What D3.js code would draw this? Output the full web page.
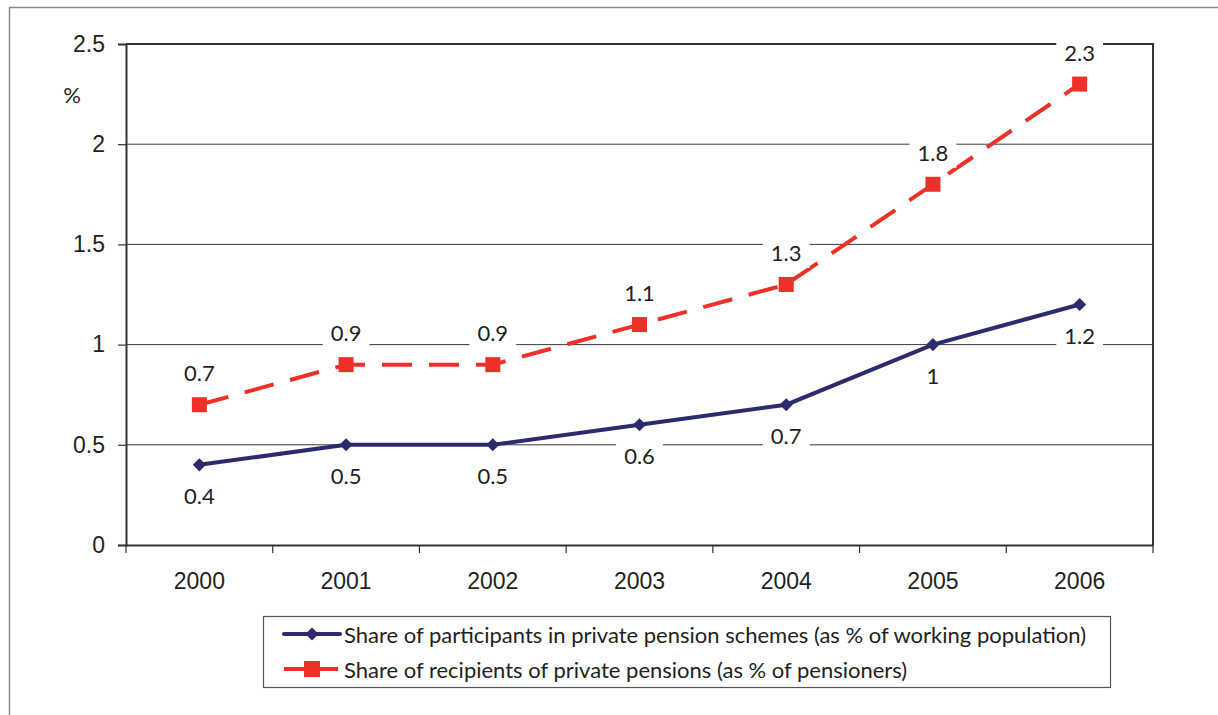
<!DOCTYPE html>
<html>
<head>
<meta charset="utf-8">
<script src="https://cdn.jsdelivr.net/npm/d3@7"></script>
<style>
  html, body { margin: 0; padding: 0; background: #fff; }
  svg { display: block; font-family: "Lato", "Open Sans", sans-serif; }
</style>
</head>
<body>
<svg id="chart" width="1218" height="715"></svg>
<script>
// Pension coverage, 2000–2006
const years = ["2000", "2001", "2002", "2003", "2004", "2005", "2006"];
const participants = [0.4, 0.5, 0.5, 0.6, 0.7, 1, 1.2];
const recipients = [0.7, 0.9, 0.9, 1.1, 1.3, 1.8, 2.3];
const yTicks = [0, 0.5, 1, 1.5, 2, 2.5];
const seriesNames = [
  "Share of participants in private pension schemes (as % of working population)",
  "Share of recipients of private pensions (as % of pensioners)"
];

const navy = "#2d2a6e";
const red = "#ee3128";
const ink = "#231f20";

const svg = d3.select("#chart");

// outer frame
svg.append("path")
  .attr("d", "M9.5,715 V7.5 H1218")
  .attr("fill", "none").attr("stroke", "#8a8a8a").attr("stroke-width", 1.5);

const plot = { left: 126, top: 44, right: 1153, bottom: 545 };

const x = d3.scaleBand().domain(years).range([plot.left, plot.right]);
const y = d3.scaleLinear().domain([0, 2.5]).range([plot.bottom, plot.top]);
const cx = d => x(d) + x.bandwidth() / 2;

// gridlines
svg.append("g").selectAll("line")
  .data(yTicks.filter(t => t > 0 && t < 2.5))
  .join("line")
  .attr("x1", plot.left).attr("x2", plot.right)
  .attr("y1", d => y(d)).attr("y2", d => y(d))
  .attr("stroke", "#3a3a3a").attr("stroke-width", 1);

// plot frame: top and right edges
svg.append("path")
  .attr("d", `M${plot.left},${y(2.5)} H${plot.right} V${plot.bottom}`)
  .attr("fill", "none").attr("stroke", "#333").attr("stroke-width", 2);

// y axis
const yAxis = svg.append("g")
  .attr("transform", `translate(${plot.left},0)`)
  .call(d3.axisLeft(y).tickValues(yTicks).tickSize(8).tickPadding(13).tickFormat(d => String(d)));
yAxis.select(".domain").attr("stroke", "#333").attr("stroke-width", 2);
yAxis.selectAll(".tick line").attr("stroke", "#333").attr("stroke-width", 1.2);
yAxis.selectAll("text").attr("font-size", 23).attr("fill", ink);

// x axis with ticks at category boundaries
const xAxis = svg.append("g")
  .attr("transform", `translate(0,${plot.bottom})`)
  .call(d3.axisBottom(x).tickSize(0).tickPadding(28));
xAxis.select(".domain").attr("stroke", "#333").attr("stroke-width", 2);
xAxis.selectAll("text").attr("font-size", 23).attr("fill", ink);
xAxis.selectAll(".boundary")
  .data(d3.range(years.length + 1))
  .join("line")
  .attr("x1", i => plot.left + i * x.step()).attr("x2", i => plot.left + i * x.step())
  .attr("y1", 0).attr("y2", 8)
  .attr("stroke", "#333").attr("stroke-width", 1.2);

// unit label
svg.append("text").attr("x", 72).attr("y", 103).attr("text-anchor", "middle")
  .attr("font-size", 22).attr("fill", ink).text("%");

const line = d3.line().x((d, i) => cx(years[i])).y(d => y(d));

// recipients (dashed red)
svg.append("path").datum(recipients)
  .attr("d", line).attr("fill", "none")
  .attr("stroke", red).attr("stroke-width", 4).attr("stroke-dasharray", "30,17");
svg.append("g").selectAll("rect").data(recipients).join("rect")
  .attr("x", (d, i) => cx(years[i]) - 7.5).attr("y", d => y(d) - 7.5)
  .attr("width", 15).attr("height", 15).attr("fill", red);

// participants (solid navy)
svg.append("path").datum(participants)
  .attr("d", line).attr("fill", "none")
  .attr("stroke", navy).attr("stroke-width", 4);
const diamond = d3.symbol().type(d3.symbolDiamond2).size(110);
svg.append("g").selectAll("path").data(participants).join("path")
  .attr("transform", (d, i) => `translate(${cx(years[i])},${y(d)})`)
  .attr("d", diamond).attr("fill", navy);

// value labels with white backing
function addLabels(values, dy) {
  const g = svg.append("g");
  values.forEach((v, i) => {
    const lx = cx(years[i]), ly = y(v) + dy;
    const t = g.append("text").attr("x", lx).attr("y", ly)
      .attr("text-anchor", "middle").attr("dominant-baseline", "central")
      .attr("font-size", 22).attr("fill", ink).text(String(v));
    const b = t.node().getBBox();
    g.insert("rect", "text")
      .attr("x", b.x - 8).attr("y", b.y - 2)
      .attr("width", b.width + 16).attr("height", b.height + 4)
      .attr("fill", "#fff");
  });
}
addLabels(recipients, -32);
addLabels(participants, 31);

// legend
const lg = svg.append("g");
lg.append("rect").attr("x", 263.5).attr("y", 616.5).attr("width", 847).attr("height", 71)
  .attr("fill", "#fff").attr("stroke", "#555").attr("stroke-width", 1.2);
const rows = [634, 669];
lg.append("line").attr("x1", 284).attr("x2", 340).attr("y1", rows[0]).attr("y2", rows[0])
  .attr("stroke", navy).attr("stroke-width", 4).attr("stroke-linecap", "round");
lg.append("path").attr("transform", `translate(312,${rows[0]})`).attr("d", diamond).attr("fill", navy);
lg.append("line").attr("x1", 284).attr("x2", 340).attr("y1", rows[1]).attr("y2", rows[1])
  .attr("stroke", red).attr("stroke-width", 4).attr("stroke-dasharray", "20,14");
lg.append("rect").attr("x", 304).attr("y", rows[1] - 8).attr("width", 16).attr("height", 16).attr("fill", red);
seriesNames.forEach((name, i) => {
  lg.append("text").attr("x", 344).attr("y", rows[i]).attr("dominant-baseline", "central")
    .attr("font-size", 22).attr("fill", ink).text(name);
});
</script>
</body>
</html>
